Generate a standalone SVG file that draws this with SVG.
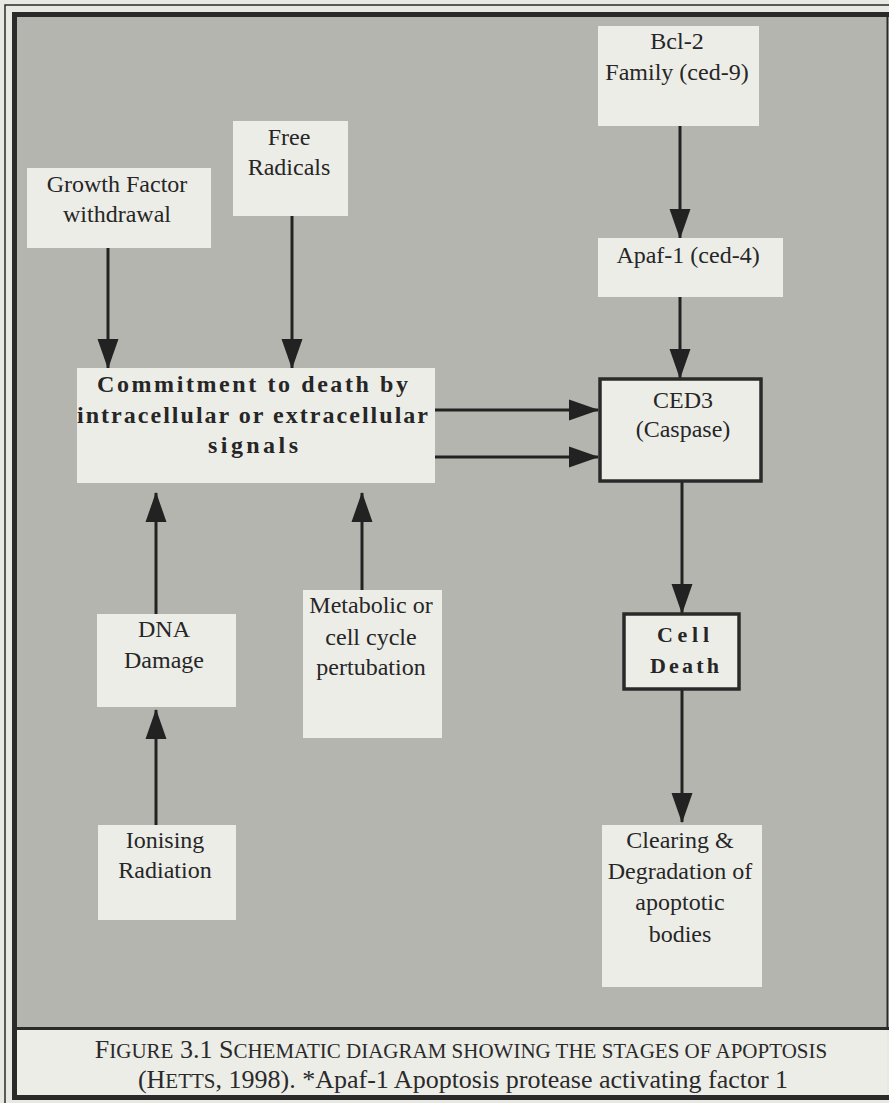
<svg xmlns="http://www.w3.org/2000/svg" width="889" height="1103" viewBox="0 0 889 1103">
<defs>
<style>
.bg{fill:#e9e9e3}
.panel{fill:#b5b5af}
.box{fill:#edede8}
.frame{fill:none;stroke:#2a2a2a}
.t{font-family:"Liberation Serif","Times New Roman",serif;font-size:24px;fill:#262626;text-anchor:middle}
.b{font-family:"Liberation Serif","Times New Roman",serif;font-weight:bold;fill:#262626}
.cap{font-family:"Liberation Serif","Times New Roman",serif;fill:#2a2a2a;text-anchor:middle}
.conn line{stroke:#222;stroke-width:3;marker-end:url(#ah)}
.thick{stroke:#2a2a2a;stroke-width:3.5}
</style>
<marker id="ah" markerUnits="userSpaceOnUse" markerWidth="30" markerHeight="22" refX="29" refY="10.5" orient="auto" viewBox="0 0 30 21">
<path d="M0,0 L30,10.5 L0,21 Z" fill="#222"/>
</marker>
</defs>

<rect class="bg" x="0" y="0" width="889" height="1103"/>
<rect class="frame" x="5" y="5" width="890" height="1102" stroke-width="1.5"/>
<rect class="panel" x="17" y="17" width="870" height="1011"/>
<rect class="box" x="17" y="1030" width="870" height="67"/>
<rect class="frame" x="14.5" y="14.5" width="880" height="1083" stroke-width="5"/>
<line x1="17" y1="1028.5" x2="889" y2="1028.5" stroke="#2a2a2a" stroke-width="3"/>
<line x1="887.5" y1="17" x2="887.5" y2="1028" stroke="#2a2a2a" stroke-width="2"/>

<g class="conn">
<line x1="680" y1="126" x2="680" y2="238"/>
<line x1="680" y1="297" x2="680" y2="378"/>
<line x1="108" y1="248" x2="108" y2="368"/>
<line x1="292" y1="216" x2="292" y2="368"/>
<line x1="435" y1="410" x2="598" y2="410"/>
<line x1="435" y1="457" x2="598" y2="457"/>
<line x1="156" y1="614" x2="156" y2="493"/>
<line x1="362" y1="590" x2="362" y2="493"/>
<line x1="156" y1="825" x2="156" y2="710"/>
<line x1="682" y1="482" x2="682" y2="613"/>
<line x1="682" y1="690" x2="682" y2="822"/>
</g>

<g id="growth">
<rect class="box" x="27" y="168" width="184" height="80"/>
<text class="t" x="117" y="192">Growth Factor</text>
<text class="t" x="117" y="222">withdrawal</text>
</g>

<g id="free">
<rect class="box" x="233" y="121" width="115" height="95"/>
<text class="t" x="289" y="145">Free</text>
<text class="t" x="289" y="175">Radicals</text>
</g>

<g id="bcl2">
<rect class="box" x="598" y="26" width="161" height="100"/>
<text class="t" x="677" y="49">Bcl-2</text>
<text class="t" x="677" y="80">Family (ced-9)</text>
</g>

<g id="apaf">
<rect class="box" x="598" y="238" width="185" height="59"/>
<text class="t" x="688" y="263">Apaf-1 (ced-4)</text>
</g>

<g id="commitment">
<rect class="box" x="77" y="368" width="358" height="115"/>
<text class="b" x="97" y="392" font-size="24" textLength="311" lengthAdjust="spacing">Commitment to death by</text>
<text class="b" x="77" y="423" font-size="24" textLength="351" lengthAdjust="spacing">intracellular or extracellular</text>
<text class="b" x="208" y="453" font-size="24" textLength="90" lengthAdjust="spacing">signals</text>
</g>

<g id="ced3">
<rect class="box thick" x="600" y="379" width="161" height="102"/>
<text class="t" x="683" y="408">CED3</text>
<text class="t" x="683" y="437">(Caspase)</text>
</g>

<g id="dna">
<rect class="box" x="97" y="614" width="139" height="93"/>
<text class="t" x="164" y="637">DNA</text>
<text class="t" x="164" y="668">Damage</text>
</g>

<g id="metabolic">
<rect class="box" x="303" y="590" width="139" height="148"/>
<text class="t" x="371" y="613">Metabolic or</text>
<text class="t" x="371" y="645">cell cycle</text>
<text class="t" x="371" y="675">pertubation</text>
</g>

<g id="ionising">
<rect class="box" x="98" y="825" width="138" height="95"/>
<text class="t" x="165" y="848">Ionising</text>
<text class="t" x="165" y="878">Radiation</text>
</g>

<g id="celldeath">
<rect class="box thick" x="624" y="614" width="115" height="75"/>
<text class="b" x="657" y="642" font-size="22" textLength="52" lengthAdjust="spacing">Cell</text>
<text class="b" x="650" y="673" font-size="22" textLength="69" lengthAdjust="spacing">Death</text>
</g>

<g id="clearing">
<rect class="box" x="602" y="825" width="160" height="162"/>
<text class="t" x="680" y="848">Clearing &amp;</text>
<text class="t" x="680" y="879">Degradation of</text>
<text class="t" x="680" y="910">apoptotic</text>
<text class="t" x="680" y="942">bodies</text>
</g>

<g id="caption">
<text class="cap" x="461" y="1058" font-size="26">F<tspan font-size="21">IGURE</tspan> 3.1 S<tspan font-size="21">CHEMATIC DIAGRAM SHOWING THE STAGES OF APOPTOSIS</tspan></text>
<text class="cap" x="463" y="1088" font-size="26">(H<tspan font-size="21">ETTS</tspan>, 1998). *Apaf-1 Apoptosis protease activating factor 1</text>
</g>
</svg>
